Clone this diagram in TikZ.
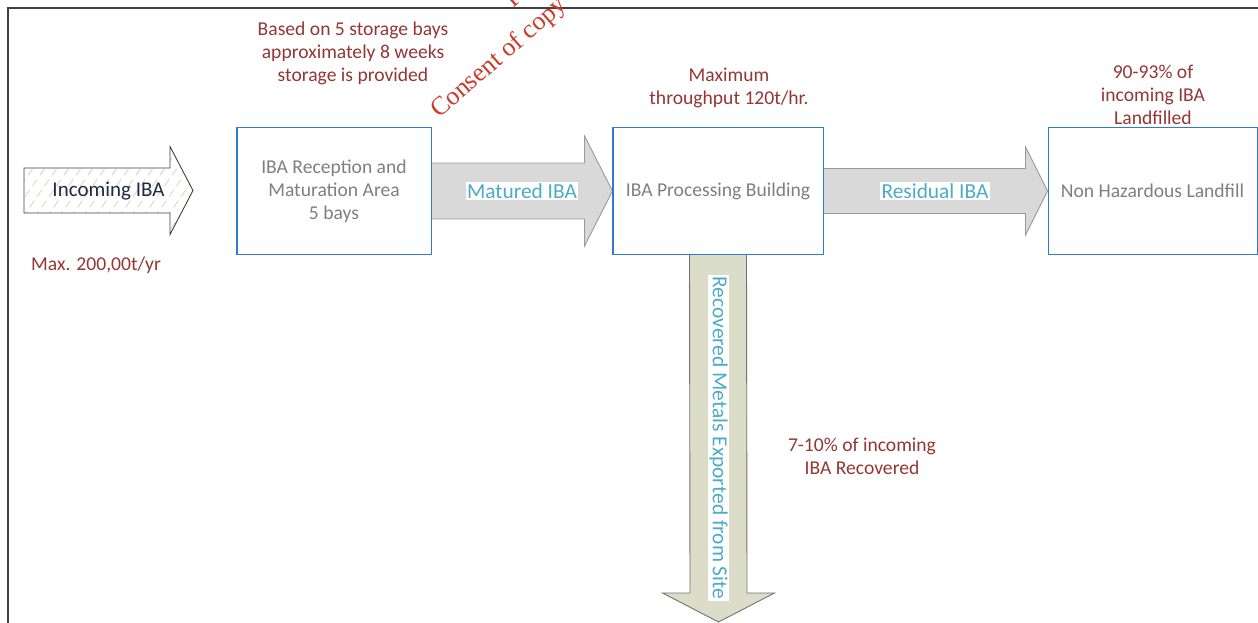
\documentclass[tikz,border=0pt]{standalone}
\usepackage{fontspec}
\setmainfont{Carlito}
\newfontfamily\wmfont{Liberation Serif}
\usetikzlibrary{calc}

\definecolor{notered}{HTML}{943634}
\definecolor{boxtext}{HTML}{7F7F7F}
\definecolor{flowblue}{HTML}{4BACC6}
\definecolor{boxblue}{HTML}{2E7BCF}
\definecolor{framegray}{HTML}{404040}
\definecolor{flowgray}{HTML}{D9D9D9}
\definecolor{flowedge}{HTML}{999999}
\definecolor{metalfill}{HTML}{DBDDC8}
\definecolor{hatchtan}{HTML}{DCD8C8}
\definecolor{inktext}{HTML}{1F2A44}
\definecolor{stampred}{HTML}{CC3A2A}

\tikzset{
  stage/.style={draw=boxblue, line width=1pt, minimum height=126pt,
    text=boxtext, align=center, font=\fontsize{19.6}{23}\selectfont},
  note/.style={text=notered, align=center, font=\fontsize{19.6}{23}\selectfont},
  flowlabel/.style={text=flowblue, fill=white, inner xsep=1.5pt, inner ysep=1pt,
    font=\fontsize{21.4}{24}\selectfont},
  flowarrow/.style={fill=flowgray, draw=flowedge, line width=0.9pt, line join=miter},
  metalarrow/.style={fill=metalfill, draw=black!55, line width=0.9pt},
  hatchline/.style={draw=hatchtan, line width=0.9pt, dash pattern=on 8pt off 5pt},
  stamp/.style={text=stampred, font=\wmfont\fontsize{26}{30}\selectfont, inner sep=0pt}
}

\begin{document}
\begin{tikzpicture}[x=1pt, y=-1pt]
\useasboundingbox (0,0) rectangle (1258,623);
\clip (0,0) rectangle (1258,623);

% outer frame (left and top edges)
\draw[framegray, line width=1.3pt] (8,623) -- (8,8) -- (1258,8);

% stages
\node[stage, minimum width=194pt] (recv) at (334,191)
  {IBA Reception and\\Maturation Area\\5 bays};
\node[stage, minimum width=210pt] (proc) at (718,191)
  {IBA Processing Building};
\node[stage, minimum width=209pt] (fill) at (1152.5,191)
  {Non Hazardous Landfill};

% incoming arrow with hatched fill
\coordinate (inTail) at (24,190.5);
\coordinate (inTip) at (193,190.5);
\begin{scope}
  \clip ($(inTail)+(0,-22.5)$) -- ($(inTip)+(-23,-22.5)$) -- ($(inTip)+(-23,-44)$)
    -- (inTip) -- ($(inTip)+(-23,44)$) -- ($(inTip)+(-23,22.5)$)
    -- ($(inTail)+(0,22.5)$) -- cycle;
  \fill[white] (0,140) rectangle (200,240);
  \foreach \k in {-120,-108,...,220}
    \draw[hatchline] (\k,250) -- ++(80,-115);
\end{scope}
\draw[black!75, line width=0.9pt, line join=miter]
  ($(inTail)+(0,-22.5)$) -- ($(inTip)+(-23,-22.5)$) -- ($(inTip)+(-23,-44)$)
  -- (inTip) -- ($(inTip)+(-23,44)$) -- ($(inTip)+(-23,22.5)$)
  -- ($(inTail)+(0,22.5)$) -- cycle;
\node[text=inktext, font=\fontsize{21}{24}\selectfont] (inLabel) at (108.5,191) {Incoming IBA};

% matured IBA flow
\draw[flowarrow] ($(recv.east)+(0,-28)$) -- ($(proc.west)+(-28,-28)$)
  -- ($(proc.west)+(-28,-55)$) -- (proc.west) -- ($(proc.west)+(-28,55)$)
  -- ($(proc.west)+(-28,28)$) -- ($(recv.east)+(0,28)$);
\node[flowlabel] (matured) at (522,191) {Matured IBA};

% residual IBA flow
\draw[flowarrow] ($(proc.east)+(0,-22.5)$) -- ($(fill.west)+(-22,-22.5)$)
  -- ($(fill.west)+(-22,-44)$) -- (fill.west) -- ($(fill.west)+(-22,44)$)
  -- ($(fill.west)+(-22,22.5)$) -- ($(proc.east)+(0,22.5)$);
\node[flowlabel] (residual) at (935,191) {Residual IBA};

% recovered metals flow
\coordinate (metalTip) at (718.5,622);
\draw[metalarrow] ($(proc.south)+(-28.5,0)$) -- ($(metalTip)+(-28.5,-29)$)
  -- ($(metalTip)+(-56,-29)$) -- (metalTip) -- ($(metalTip)+(56,-29)$)
  -- ($(metalTip)+(28.5,-29)$) -- ($(proc.south)+(28.5,0)$);
\node[flowlabel, rotate=-90] (metals) at (718.5,438) {Recovered Metals Exported from Site};

% stage stroke on top of the flows
\draw[boxblue, line width=1pt] (recv.north west) rectangle (recv.south east);
\draw[boxblue, line width=1pt] (proc.north west) rectangle (proc.south east);

% notes
\node[note] (storage) at (353,53) {Based on 5 storage bays\\approximately 8 weeks\\storage is provided};
\node[note] (rate) at (729,88) {Maximum\\throughput 120t/hr.};
\node[note] (landfilled) at (1153,95) {90-93\% of\\incoming IBA\\Landfilled};
\node[note] (recovered) at (862,456) {7-10\% of incoming\\IBA Recovered};
\node[note] (annual) at (96,265) {Max. 200,00t/yr};

% copyright stamp, running off the top edge
\node[stamp, anchor=base west, rotate=41] (stampB) at (439,119) {Consent of copy};
\node[stamp, anchor=base west, rotate=41] (stampA) at (513,9) {For};
\end{tikzpicture}
\end{document}
